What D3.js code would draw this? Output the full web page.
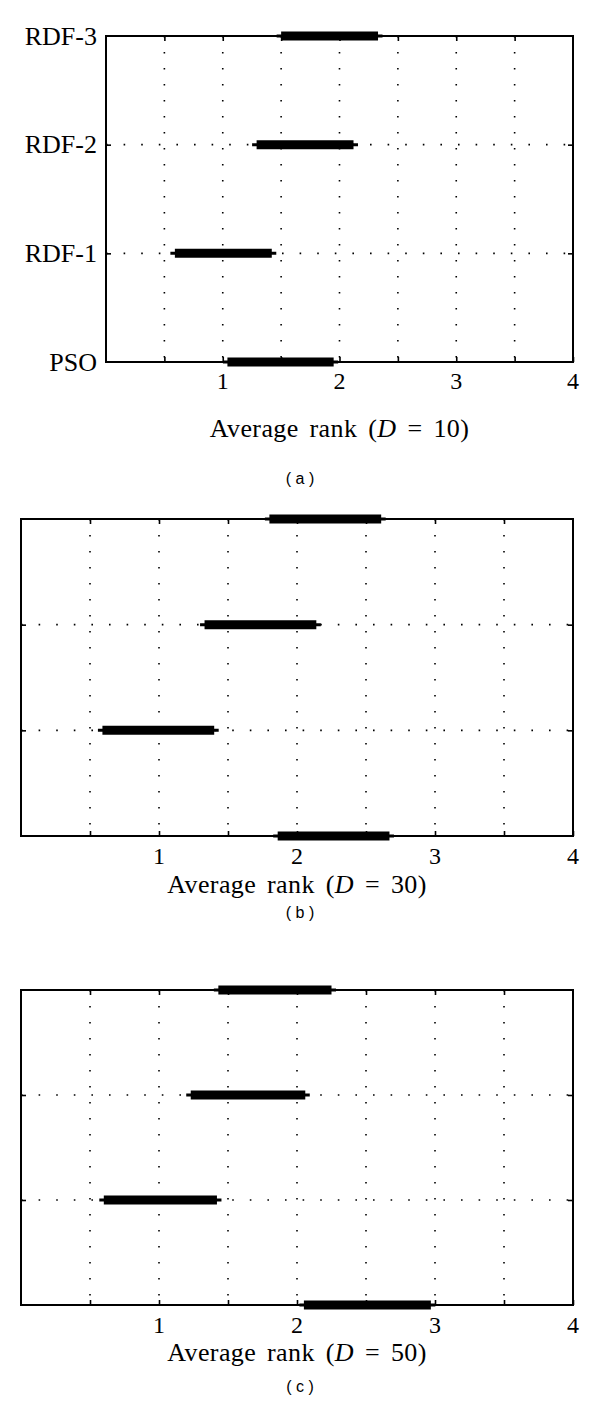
<!DOCTYPE html>
<html>
<head>
<meta charset="utf-8">
<script src="https://cdn.jsdelivr.net/npm/d3@7"></script>
<style>
  html, body { margin: 0; padding: 0; background: #fff; }
  svg { display: block; }
</style>
</head>
<body>
<svg id="chart" width="600" height="1428"></svg>
<script>
// ---- data ----
const categories = ["PSO", "RDF-1", "RDF-2", "RDF-3"];
const xTickValues = [1, 2, 3, 4];
const gridValues = [0.5, 1, 1.5, 2, 2.5, 3, 3.5];
const dimensions = ["10", "30", "50"];
const panelTags = ["a", "b", "c"];

// interval (thick bar) ends, per category, for D = 10 / 30 / 50
const lowD10  = [1.04, 0.59, 1.29, 1.50];
const highD10 = [1.95, 1.42, 2.12, 2.33];
const lowD30  = [1.86, 0.59, 1.33, 1.80];
const highD30 = [2.67, 1.40, 2.14, 2.61];
const lowD50  = [2.05, 0.60, 1.23, 1.43];
const highD50 = [2.97, 1.42, 2.06, 2.25];

const lows = [lowD10, lowD30, lowD50];
const highs = [highD10, highD30, highD50];

// ---- layout ----
const layout = [
  { left: 106, right: 573, top: 36,  bottom: 362,  tickY: 381,  labelY: 428,  tagY: 478,  showY: true },
  { left: 21,  right: 573, top: 519, bottom: 836,  tickY: 856,  labelY: 884,  tagY: 912,  showY: false },
  { left: 21,  right: 573, top: 990, bottom: 1305, tickY: 1325, labelY: 1352, tagY: 1386, showY: false }
];

const serif = "'Liberation Serif', 'Times New Roman', serif";
const svg = d3.select("#chart");
svg.append("rect").attr("width", 600).attr("height", 1428).attr("fill", "#fff");

layout.forEach((L, p) => {
  const x = d3.scaleLinear().domain([0, 4]).range([L.left, L.right]);
  const y = d3.scaleLinear().domain([0, 3]).range([L.bottom, L.top]);
  const g = svg.append("g");

  // dotted vertical grid
  g.selectAll(".vg").data(gridValues).enter().append("line")
    .attr("x1", d => x(d)).attr("x2", d => x(d))
    .attr("y1", L.top).attr("y2", L.bottom)
    .attr("stroke", "#000").attr("stroke-width", 1.6)
    .attr("stroke-dasharray", "1.6,14.4");

  // dotted horizontal grid at RDF-1, RDF-2
  g.selectAll(".hg").data([1, 2]).enter().append("line")
    .attr("x1", L.left).attr("x2", L.right)
    .attr("y1", d => y(d)).attr("y2", d => y(d))
    .attr("stroke", "#000").attr("stroke-width", 1.6)
    .attr("stroke-dasharray", "1.6,16");

  // axes with inward ticks
  const xb = d3.axisBottom(x).tickValues(gridValues.concat([4])).tickSize(-5).tickFormat("");
  const xt = d3.axisTop(x).tickValues(gridValues).tickSize(-5).tickFormat("");
  const yl = d3.axisLeft(y).tickValues([1, 2]).tickSize(-5).tickFormat("");
  const yr = d3.axisRight(y).tickValues([1, 2]).tickSize(-5).tickFormat("");
  [[xb, `translate(0,${L.bottom})`], [xt, `translate(0,${L.top})`],
   [yl, `translate(${L.left},0)`], [yr, `translate(${L.right},0)`]].forEach(([ax, tr]) => {
    const a = g.append("g").attr("transform", tr).call(ax);
    a.select(".domain").remove();
    a.selectAll("line").attr("stroke", "#000").attr("stroke-width", 1.6);
  });

  // frame
  g.append("rect")
    .attr("x", L.left).attr("y", L.top)
    .attr("width", L.right - L.left).attr("height", L.bottom - L.top)
    .attr("fill", "none").attr("stroke", "#000").attr("stroke-width", 2);

  // tick labels
  g.selectAll(".xl").data(xTickValues).enter().append("text")
    .attr("x", d => x(d)).attr("y", L.tickY)
    .attr("text-anchor", "middle").attr("dominant-baseline", "central")
    .attr("font-family", serif).attr("font-size", 24).attr("fill", "#000")
    .text(d => d);

  if (L.showY) {
    g.selectAll(".yl").data(categories).enter().append("text")
      .attr("x", L.left - 9).attr("y", (d, i) => y(i))
      .attr("text-anchor", "end").attr("dominant-baseline", "central")
      .attr("font-family", serif).attr("font-size", 26).attr("fill", "#000")
      .text(d => d);
  }

  // intervals: thin line slightly longer, thick bar
  const rows = categories.map((c, i) => ({ i, lo: lows[p][i], hi: highs[p][i] }));
  g.selectAll(".thin").data(rows).enter().append("line")
    .attr("x1", d => x(d.lo) - 4.5).attr("x2", d => x(d.hi) + 4.5)
    .attr("y1", d => y(d.i)).attr("y2", d => y(d.i))
    .attr("stroke", "#000").attr("stroke-width", 3);
  g.selectAll(".thick").data(rows).enter().append("line")
    .attr("x1", d => x(d.lo)).attr("x2", d => x(d.hi))
    .attr("y1", d => y(d.i)).attr("y2", d => y(d.i))
    .attr("stroke", "#000").attr("stroke-width", 9);

  // axis title
  const t = g.append("text")
    .attr("x", (L.left + L.right) / 2).attr("y", L.labelY)
    .attr("text-anchor", "middle").attr("dominant-baseline", "central")
    .attr("font-family", serif).attr("font-size", 26).attr("fill", "#000")
    .attr("word-spacing", 4).attr("letter-spacing", 0.4);
  t.append("tspan").text("Average rank (");
  t.append("tspan").attr("font-style", "italic").text("D");
  t.append("tspan").text(" = " + dimensions[p] + ")");

  // panel tag
  svg.append("text")
    .attr("x", 300).attr("y", L.tagY)
    .attr("text-anchor", "middle").attr("dominant-baseline", "central")
    .attr("font-family", "'Liberation Sans', Arial, sans-serif").attr("font-size", 16)
    .attr("fill", "#000").attr("xml:space", "preserve")
    .text("( " + panelTags[p] + " )");
});
</script>
</body>
</html>
